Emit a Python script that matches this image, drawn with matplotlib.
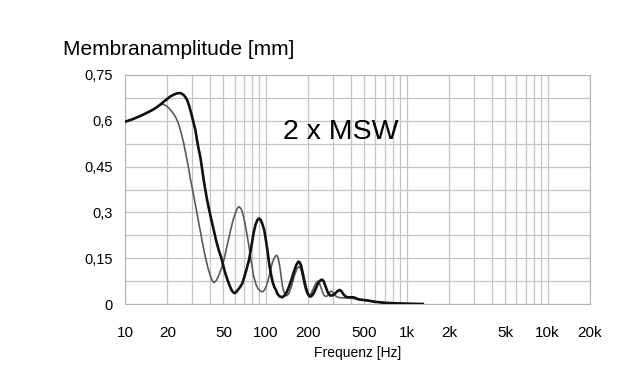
import numpy as np
import matplotlib
matplotlib.use('Agg')
import matplotlib.pyplot as plt
from matplotlib.ticker import FixedLocator, NullFormatter

plt.rcParams['font.family'] = ['Liberation Sans', 'DejaVu Sans']

# thick curve (black)
f_thick = [10, 11, 12, 13, 14, 15, 16, 17, 17.8, 19, 20, 21, 22.5, 23.5, 24.4, 25.3, 26,
           26.8, 27.6, 28.5, 29.5, 30.5, 31.6, 32.5, 33.4, 34.3, 35.2, 36.2, 37.3, 38.3,
           39.4, 40.5, 41.6, 43, 44.5, 46.4, 48, 49, 50.5, 52, 53.5, 54.7, 56, 57.5, 59.4,
           61, 63, 65.5, 68.1, 71, 73.5, 75.9, 79, 82, 84.5, 87, 89.5, 92, 94.5, 97.4,
           100, 103, 105.5, 108.5, 112, 115, 117.8, 121, 125, 131, 136, 141, 146, 152,
           158, 164, 170, 174, 178, 182, 187, 192, 198, 204, 210, 217, 225, 233, 242,
           250, 257, 265, 274, 285, 297, 310, 322, 335, 345, 355, 367, 380, 400, 420,
           440, 460, 520, 600, 700, 850, 1000, 1150, 1300]
a_thick = [0.597, 0.603, 0.61, 0.617, 0.624, 0.631, 0.638, 0.646, 0.653, 0.664, 0.672,
           0.68, 0.687, 0.69, 0.691, 0.689, 0.685, 0.678, 0.668, 0.65, 0.625, 0.598,
           0.57, 0.535, 0.505, 0.48, 0.445, 0.406, 0.37, 0.34, 0.313, 0.287, 0.264,
           0.235, 0.205, 0.175, 0.155, 0.14, 0.115, 0.095, 0.078, 0.066, 0.054, 0.043,
           0.036, 0.037, 0.045, 0.055, 0.068, 0.095, 0.12, 0.144, 0.19, 0.235, 0.26,
           0.275, 0.28, 0.275, 0.262, 0.242, 0.21, 0.17, 0.133, 0.1, 0.07, 0.055, 0.046,
           0.033, 0.025, 0.022, 0.028, 0.04, 0.057, 0.08, 0.105, 0.127, 0.139, 0.136,
           0.125, 0.105, 0.079, 0.055, 0.035, 0.025, 0.025, 0.033, 0.048, 0.065, 0.076,
           0.08, 0.075, 0.058, 0.04, 0.028, 0.028, 0.034, 0.042, 0.046, 0.041, 0.032,
           0.025, 0.022, 0.022, 0.022, 0.018, 0.015, 0.012, 0.007, 0.004, 0.002, 0.001,
           0.0005, 0.0]

# thin curve (grey)
f_thin = [10, 11, 12, 13, 14, 15, 16, 17, 17.8, 18.5, 19.2, 20, 21, 22, 23, 24, 25, 26,
          26.8, 27.6, 28.4, 29.1, 30, 30.8, 31.6, 32.5, 33.4, 34.3, 35.3, 36.5, 37.7, 39,
          40.5, 41.6, 42.8, 44.5, 46.4, 48.5, 50.4, 53, 56.2, 58.5, 61, 62.8, 64.5, 66.5,
          68, 70, 73, 75.9, 79, 82, 85, 88, 91.5, 94.9, 97.5, 100, 103, 105.5, 109, 112,
          116, 119.5, 122, 125, 128, 131, 134, 138, 142, 146, 150, 155, 160, 166, 172,
          177, 182, 187, 192, 196, 200, 205, 210, 216, 222, 228, 234, 240, 246, 252, 258,
          264, 270, 276, 282, 288, 293, 299, 305, 315, 325, 350, 380, 420, 470, 520, 600,
          700, 850, 1000, 1300]
a_thin = [0.597, 0.603, 0.61, 0.617, 0.624, 0.631, 0.638, 0.647, 0.652, 0.654, 0.652,
          0.646, 0.636, 0.624, 0.61, 0.59, 0.562, 0.53, 0.5, 0.47, 0.44, 0.41, 0.38,
          0.352, 0.325, 0.295, 0.265, 0.238, 0.205, 0.172, 0.142, 0.114, 0.09, 0.076,
          0.07, 0.077, 0.095, 0.118, 0.144, 0.19, 0.242, 0.275, 0.3, 0.314, 0.319,
          0.313, 0.302, 0.28, 0.235, 0.188, 0.135, 0.09, 0.065, 0.05, 0.042, 0.04,
          0.045, 0.055, 0.072, 0.09, 0.12, 0.14, 0.155, 0.16, 0.152, 0.128, 0.095, 0.06,
          0.04, 0.028, 0.028, 0.036, 0.05, 0.072, 0.095, 0.115, 0.123, 0.115, 0.092,
          0.066, 0.045, 0.035, 0.03, 0.03, 0.035, 0.047, 0.06, 0.07, 0.075, 0.068, 0.055,
          0.04, 0.03, 0.025, 0.025, 0.03, 0.036, 0.041, 0.042, 0.038, 0.032, 0.025,
          0.022, 0.02, 0.02, 0.018, 0.013, 0.011, 0.007, 0.004, 0.002, 0.001, 0.0]

x_ticks = [10, 20, 50, 100, 200, 500, 1000, 2000, 5000, 10000, 20000]
x_labels = ['10', '20', '50', '100', '200', '500', '1k', '2k', '5k', '10k', '20k']
y_ticks = [0, 0.15, 0.3, 0.45, 0.6, 0.75]
y_labels = ['0', '0,15', '0,3', '0,45', '0,6', '0,75']

fig = plt.figure(figsize=(6.36, 3.82), dpi=100)
ax = fig.add_axes([125/636, 1-304/382, 465/636, 229/382])

ax.plot(f_thin, a_thin, color='#5a5a5a', lw=1.2, zorder=3)
ax.plot(f_thick, a_thick, color='#111111', lw=1.9, zorder=4)

ax.set_xscale('log')
ax.set_xlim(10, 20000)
ax.set_ylim(0, 0.75)

ax.xaxis.set_major_locator(FixedLocator(x_ticks))
ax.set_xticklabels(x_labels)
minors = [m * d for d in [10, 100, 1000, 10000] for m in range(1, 10) if m * d < 20000]
ax.xaxis.set_minor_locator(FixedLocator(minors))
ax.xaxis.set_minor_formatter(NullFormatter())
ax.yaxis.set_major_locator(FixedLocator(y_ticks))
ax.set_yticklabels(y_labels)
ax.yaxis.set_minor_locator(FixedLocator([0.075, 0.225, 0.375, 0.525, 0.675]))

ax.grid(which='both', color='#c4c4c4', lw=0.9)
ax.set_axisbelow(True)
ax.tick_params(which='both', length=0)
ax.tick_params(axis='x', pad=15.5, labelsize=11)
ax.tick_params(axis='y', pad=9, labelsize=10.5)
for s in ax.spines.values():
    s.set_color('#b4b4b4')

ax.set_xlabel('Frequenz [Hz]', fontsize=10, labelpad=5)
fig.text(63/636, 1-55/382, 'Membranamplitude [mm]', fontsize=15, va='baseline')
ax.text(0.34, 0.72, '2 x MSW', transform=ax.transAxes, fontsize=20.5, va='baseline')

fig.savefig('out.png', dpi=100)
